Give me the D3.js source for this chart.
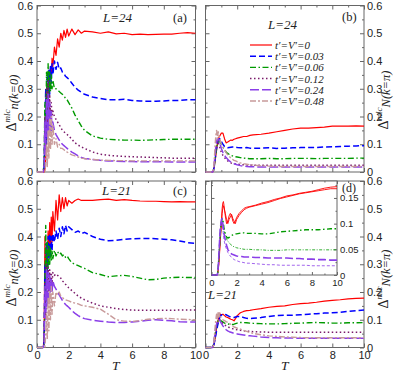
<!DOCTYPE html>
<html>
<head>
<meta charset="utf-8">
<script src="https://cdn.jsdelivr.net/npm/d3@7"></script>
<style>
    html, body { margin: 0; padding: 0; background: #fff; }
    svg { display: block; font-family: "Liberation Serif", "Times New Roman", serif; }
</style>
</head>
<body>
<div id="chart"></div>
<script>
// shared time grid (T)
const T = [0, 0.4, 0.45, 0.5, 0.55, 0.6, 0.65, 0.7, 0.75, 0.8,
    0.85, 0.9, 0.95, 1.0, 1.1, 1.2, 1.3, 1.4, 1.5, 1.6,
    1.7, 1.8, 1.9, 2.0, 2.2, 2.4, 2.6, 2.8, 3.0, 3.5,
    4.0, 4.5, 5.0, 5.5, 6.0, 6.5, 7.0, 7.5, 8.0, 8.5,
    9.0, 9.5, 10];

const legendLabels = ["t′=V′=0", "t′=V′=0.03", "t′=V′=0.06", "t′=V′=0.12", "t′=V′=0.24", "t′=V′=0.48"];
const xTicks = [0, 2, 4, 6, 8, 10];
const yTicks = [0, 0.1, 0.2, 0.3, 0.4, 0.5, 0.6];
const insetYTicks = [0, 0.05, 0.1, 0.15];

// (a) L=24, n(k=0)
const aRed = [0, 0, 0, 0.01, 0.05, 0.12, 0.2, 0.27, 0.33, 0.3,
    0.38, 0.34, 0.41, 0.38, 0.45, 0.42, 0.48, 0.45, 0.5, 0.475,
    0.51, 0.485, 0.515, 0.49, 0.515, 0.495, 0.512, 0.5, 0.508, 0.505,
    0.5, 0.505, 0.498, 0.5, 0.495, 0.497, 0.495, 0.496, 0.497, 0.497,
    0.5, 0.502, 0.5];
const aBlue = [0, 0, 0.02, 0.15, 0.3, 0.1, 0.35, 0.2, 0.37, 0.28,
    0.38, 0.32, 0.39, 0.35, 0.4, 0.37, 0.395, 0.37, 0.375, 0.36,
    0.355, 0.345, 0.34, 0.335, 0.32, 0.305, 0.295, 0.287, 0.28, 0.27,
    0.265, 0.26, 0.26, 0.262, 0.258, 0.256, 0.255, 0.255, 0.256, 0.258,
    0.258, 0.26, 0.26];
const aGreen = [0, 0, 0.05, 0.25, 0.1, 0.36, 0.22, 0.39, 0.28, 0.36,
    0.29, 0.35, 0.3, 0.33, 0.3, 0.3, 0.295, 0.29, 0.285, 0.28,
    0.275, 0.265, 0.26, 0.25, 0.23, 0.205, 0.185, 0.165, 0.15, 0.13,
    0.122, 0.118, 0.116, 0.115, 0.115, 0.114, 0.115, 0.116, 0.117, 0.118,
    0.118, 0.118, 0.118];
const aMaroon = [0, 0, 0.03, 0.2, 0.08, 0.3, 0.15, 0.33, 0.2, 0.28,
    0.21, 0.25, 0.2, 0.22, 0.2, 0.19, 0.18, 0.17, 0.16, 0.15,
    0.145, 0.14, 0.135, 0.13, 0.118, 0.105, 0.097, 0.09, 0.085, 0.072,
    0.064, 0.06, 0.058, 0.056, 0.055, 0.054, 0.053, 0.052, 0.051, 0.05,
    0.05, 0.05, 0.05];
const aViolet = [0, 0, 0.02, 0.18, 0.06, 0.26, 0.12, 0.28, 0.15, 0.25,
    0.14, 0.22, 0.15, 0.18, 0.15, 0.135, 0.125, 0.115, 0.108, 0.1,
    0.095, 0.09, 0.085, 0.08, 0.072, 0.065, 0.058, 0.052, 0.049, 0.045,
    0.042, 0.04, 0.039, 0.038, 0.038, 0.037, 0.037, 0.037, 0.037, 0.036,
    0.036, 0.036, 0.036];
const aRosy = [0, 0, 0, 0, 0.03, 0.1, 0.02, 0.15, 0.05, 0.19,
    0.08, 0.2, 0.1, 0.17, 0.1, 0.12, 0.09, 0.1, 0.085, 0.085,
    0.08, 0.075, 0.072, 0.068, 0.062, 0.058, 0.054, 0.05, 0.048, 0.045,
    0.043, 0.042, 0.041, 0.041, 0.04, 0.04, 0.04, 0.04, 0.04, 0.04,
    0.04, 0.04, 0.04];

// (b) L=24, N(k=pi)
const bRed = [0, 0, 0, 0.005, 0.02, 0.04, 0.06, 0.08, 0.1, 0.115,
    0.125, 0.13, 0.135, 0.14, 0.14, 0.12, 0.105, 0.108, 0.112, 0.115,
    0.114, 0.118, 0.12, 0.122, 0.125, 0.128, 0.128, 0.132, 0.134, 0.136,
    0.14, 0.145, 0.15, 0.155, 0.158, 0.158, 0.16, 0.162, 0.165, 0.165,
    0.165, 0.166, 0.165];
const bBlue = [0, 0, 0, 0.005, 0.02, 0.04, 0.065, 0.085, 0.1, 0.11,
    0.115, 0.12, 0.118, 0.11, 0.1, 0.092, 0.088, 0.087, 0.088, 0.089,
    0.09, 0.09, 0.09, 0.088, 0.087, 0.087, 0.088, 0.086, 0.085, 0.086,
    0.087, 0.085, 0.086, 0.087, 0.088, 0.088, 0.088, 0.09, 0.091, 0.092,
    0.093, 0.094, 0.095];
const bGreen = [0, 0, 0, 0.005, 0.02, 0.045, 0.07, 0.09, 0.1, 0.108,
    0.11, 0.11, 0.105, 0.1, 0.09, 0.08, 0.072, 0.067, 0.063, 0.06,
    0.058, 0.056, 0.055, 0.054, 0.052, 0.05, 0.049, 0.048, 0.048, 0.048,
    0.049, 0.048, 0.048, 0.049, 0.049, 0.049, 0.048, 0.049, 0.049, 0.049,
    0.049, 0.05, 0.05];
const bMaroon = [0, 0, 0, 0.005, 0.02, 0.05, 0.08, 0.1, 0.11, 0.105,
    0.1, 0.09, 0.08, 0.07, 0.06, 0.052, 0.045, 0.04, 0.036, 0.033,
    0.031, 0.03, 0.029, 0.028, 0.027, 0.026, 0.025, 0.025, 0.024, 0.024,
    0.024, 0.024, 0.024, 0.024, 0.024, 0.024, 0.024, 0.024, 0.024, 0.024,
    0.024, 0.024, 0.024];
const bViolet = [0, 0, 0, 0.01, 0.03, 0.06, 0.09, 0.11, 0.12, 0.12,
    0.115, 0.105, 0.095, 0.085, 0.07, 0.06, 0.052, 0.046, 0.04, 0.036,
    0.033, 0.03, 0.028, 0.026, 0.023, 0.021, 0.02, 0.019, 0.019, 0.018,
    0.018, 0.018, 0.018, 0.018, 0.018, 0.018, 0.018, 0.018, 0.018, 0.018,
    0.018, 0.018, 0.018];
const bRosy = [0, 0, 0, 0.01, 0.04, 0.09, 0.13, 0.15, 0.12, 0.145,
    0.13, 0.12, 0.11, 0.1, 0.09, 0.08, 0.07, 0.062, 0.056, 0.05,
    0.046, 0.042, 0.04, 0.037, 0.033, 0.03, 0.028, 0.026, 0.025, 0.022,
    0.021, 0.02, 0.02, 0.02, 0.02, 0.02, 0.02, 0.02, 0.02, 0.02,
    0.02, 0.02, 0.02];

// (c) L=21, n(k=0)
const cRed = [0, 0, 0.05, 0.4, 0.2, 0.35, 0.28, 0.42, 0.33, 0.45,
    0.36, 0.47, 0.38, 0.49, 0.42, 0.53, 0.46, 0.55, 0.49, 0.54,
    0.5, 0.54, 0.51, 0.53, 0.52, 0.53, 0.535, 0.53, 0.53, 0.53,
    0.533, 0.535, 0.53, 0.533, 0.53, 0.528, 0.527, 0.527, 0.526, 0.525,
    0.526, 0.525, 0.525];
const cBlue = [0, 0, 0.02, 0.3, 0.15, 0.38, 0.25, 0.4, 0.3, 0.41,
    0.33, 0.4, 0.35, 0.41, 0.38, 0.42, 0.39, 0.43, 0.4, 0.435,
    0.41, 0.44, 0.42, 0.435, 0.425, 0.415, 0.42, 0.41, 0.415, 0.4,
    0.39, 0.385, 0.386, 0.39, 0.392, 0.393, 0.393, 0.392, 0.39, 0.388,
    0.384, 0.378, 0.375];
const cGreen = [0, 0, 0.02, 0.2, 0.44, 0.25, 0.38, 0.28, 0.37, 0.3,
    0.36, 0.31, 0.35, 0.32, 0.35, 0.33, 0.345, 0.335, 0.34, 0.33,
    0.335, 0.325, 0.33, 0.32, 0.305, 0.3, 0.295, 0.29, 0.285, 0.27,
    0.263, 0.255, 0.258, 0.26, 0.256, 0.25, 0.244, 0.245, 0.25, 0.252,
    0.253, 0.252, 0.252];
const cMaroon = [0, 0, 0.02, 0.2, 0.1, 0.3, 0.18, 0.29, 0.2, 0.28,
    0.22, 0.27, 0.23, 0.27, 0.26, 0.265, 0.26, 0.255, 0.25, 0.24,
    0.235, 0.228, 0.222, 0.215, 0.205, 0.195, 0.185, 0.178, 0.172, 0.16,
    0.15, 0.145, 0.14, 0.137, 0.135, 0.134, 0.134, 0.134, 0.134, 0.134,
    0.135, 0.135, 0.135];
const cViolet = [0, 0, 0.02, 0.22, 0.1, 0.28, 0.15, 0.27, 0.18, 0.26,
    0.2, 0.25, 0.2, 0.24, 0.22, 0.21, 0.2, 0.19, 0.18, 0.17,
    0.162, 0.155, 0.15, 0.145, 0.133, 0.123, 0.115, 0.108, 0.104, 0.098,
    0.095, 0.092, 0.09, 0.09, 0.092, 0.095, 0.098, 0.1, 0.098, 0.096,
    0.093, 0.092, 0.092];
const cRosy = [0, 0, 0, 0, 0.05, 0.12, 0.03, 0.18, 0.06, 0.2,
    0.1, 0.22, 0.12, 0.2, 0.15, 0.2, 0.19, 0.2, 0.185, 0.18,
    0.175, 0.172, 0.17, 0.168, 0.163, 0.16, 0.157, 0.152, 0.15, 0.145,
    0.138, 0.12, 0.1, 0.095, 0.094, 0.097, 0.102, 0.104, 0.105, 0.104,
    0.102, 0.101, 0.1];

// (d) L=21, N(k=pi)
const dRed = [0, 0, 0, 0.005, 0.015, 0.03, 0.05, 0.07, 0.085, 0.1,
    0.11, 0.115, 0.12, 0.118, 0.12, 0.115, 0.11, 0.108, 0.105, 0.102,
    0.1, 0.096, 0.105, 0.115, 0.125, 0.13, 0.133, 0.134, 0.136, 0.14,
    0.145, 0.148, 0.15, 0.155, 0.158, 0.16, 0.163, 0.167, 0.17, 0.172,
    0.175, 0.177, 0.178];
const dBlue = [0, 0, 0, 0.005, 0.015, 0.03, 0.045, 0.06, 0.075, 0.088,
    0.1, 0.108, 0.113, 0.117, 0.12, 0.12, 0.118, 0.115, 0.112, 0.11,
    0.108, 0.108, 0.11, 0.112, 0.112, 0.108, 0.105, 0.104, 0.105, 0.108,
    0.112, 0.115, 0.116, 0.116, 0.118, 0.12, 0.122, 0.124, 0.125, 0.127,
    0.13, 0.133, 0.135];
const dGreen = [0, 0, 0, 0.01, 0.025, 0.045, 0.065, 0.08, 0.09, 0.097,
    0.1, 0.1, 0.098, 0.095, 0.092, 0.088, 0.086, 0.085, 0.084, 0.083,
    0.083, 0.084, 0.086, 0.088, 0.09, 0.09, 0.089, 0.088, 0.087, 0.086,
    0.085, 0.085, 0.086, 0.087, 0.088, 0.089, 0.09, 0.089, 0.088, 0.088,
    0.089, 0.089, 0.09];
const dMaroon = [0, 0, 0, 0.01, 0.025, 0.045, 0.065, 0.08, 0.09, 0.097,
    0.1, 0.1, 0.097, 0.093, 0.087, 0.082, 0.078, 0.075, 0.072, 0.07,
    0.068, 0.066, 0.065, 0.064, 0.062, 0.06, 0.059, 0.058, 0.057, 0.056,
    0.055, 0.055, 0.055, 0.055, 0.055, 0.055, 0.055, 0.055, 0.055, 0.055,
    0.055, 0.055, 0.055];
const dViolet = [0, 0, 0, 0.01, 0.03, 0.05, 0.07, 0.085, 0.095, 0.1,
    0.1, 0.097, 0.092, 0.087, 0.078, 0.07, 0.064, 0.06, 0.057, 0.055,
    0.053, 0.051, 0.05, 0.049, 0.047, 0.045, 0.043, 0.042, 0.041, 0.038,
    0.036, 0.035, 0.034, 0.034, 0.033, 0.033, 0.033, 0.033, 0.033, 0.033,
    0.033, 0.033, 0.033];
const dRosy = [0, 0, 0, 0.005, 0.03, 0.07, 0.1, 0.12, 0.1, 0.13,
    0.11, 0.125, 0.11, 0.105, 0.1, 0.097, 0.093, 0.09, 0.087, 0.083,
    0.078, 0.074, 0.072, 0.07, 0.066, 0.062, 0.058, 0.054, 0.051, 0.046,
    0.042, 0.04, 0.038, 0.037, 0.036, 0.035, 0.035, 0.035, 0.035, 0.035,
    0.035, 0.035, 0.035];

// inset of (d)
const iRed1 = [0, 0, 0, 0.005, 0.015, 0.03, 0.05, 0.07, 0.09, 0.11,
    0.13, 0.14, 0.143, 0.135, 0.115, 0.1, 0.105, 0.115, 0.12, 0.115,
    0.105, 0.1, 0.105, 0.112, 0.12, 0.125, 0.13, 0.132, 0.133, 0.136,
    0.14, 0.143, 0.147, 0.15, 0.154, 0.156, 0.159, 0.161, 0.163, 0.166,
    0.169, 0.171, 0.172];
const iRed2 = [0, 0, 0, 0.004, 0.012, 0.025, 0.045, 0.065, 0.085, 0.1,
    0.12, 0.13, 0.135, 0.13, 0.12, 0.108, 0.1, 0.108, 0.113, 0.118,
    0.11, 0.105, 0.1, 0.108, 0.116, 0.122, 0.127, 0.13, 0.132, 0.135,
    0.138, 0.141, 0.145, 0.149, 0.152, 0.155, 0.158, 0.16, 0.162, 0.164,
    0.166, 0.168, 0.168];
const iGreen1 = [0, 0, 0, 0.005, 0.02, 0.04, 0.06, 0.08, 0.095, 0.105,
    0.11, 0.108, 0.1, 0.09, 0.08, 0.074, 0.072, 0.073, 0.075, 0.077,
    0.078, 0.079, 0.08, 0.08, 0.081, 0.082, 0.082, 0.081, 0.081, 0.081,
    0.08, 0.08, 0.082, 0.084, 0.085, 0.086, 0.087, 0.088, 0.088, 0.088,
    0.089, 0.09, 0.09];
const iGreen2 = [0, 0, 0, 0.005, 0.02, 0.04, 0.06, 0.08, 0.095, 0.103,
    0.105, 0.1, 0.092, 0.085, 0.077, 0.07, 0.066, 0.063, 0.06, 0.058,
    0.056, 0.055, 0.054, 0.053, 0.052, 0.051, 0.05, 0.05, 0.05, 0.049,
    0.049, 0.048, 0.048, 0.048, 0.049, 0.049, 0.049, 0.049, 0.049, 0.049,
    0.049, 0.049, 0.049];
const iViolet1 = [0, 0, 0, 0.005, 0.02, 0.045, 0.07, 0.09, 0.1, 0.108,
    0.11, 0.1, 0.09, 0.08, 0.068, 0.058, 0.05, 0.046, 0.043, 0.041,
    0.04, 0.039, 0.038, 0.037, 0.036, 0.036, 0.035, 0.035, 0.035, 0.034,
    0.034, 0.033, 0.033, 0.033, 0.033, 0.032, 0.032, 0.031, 0.031, 0.03,
    0.03, 0.029, 0.029];
const iViolet2 = [0, 0, 0, 0.005, 0.02, 0.045, 0.07, 0.09, 0.1, 0.105,
    0.1, 0.09, 0.078, 0.068, 0.057, 0.05, 0.044, 0.04, 0.037, 0.034,
    0.032, 0.03, 0.029, 0.028, 0.026, 0.025, 0.024, 0.023, 0.023, 0.022,
    0.021, 0.02, 0.02, 0.019, 0.019, 0.019, 0.019, 0.019, 0.018, 0.018,
    0.018, 0.018, 0.018];

(() => {
    const styles = [
        { color: "#ff0000", dash: null, w: 1.2 },
        { color: "#0000ff", dash: "6,3", w: 1.5 },
        { color: "#009a00", dash: "6,2.5,1.5,2.5", w: 1.4 },
        { color: "#7a1a6a", dash: "1.5,2.5", w: 1.5 },
        { color: "#8a3ee8", dash: "9,3", w: 1.5 },
        { color: "#c89a9a", dash: "6,2,2,2", w: 1.4 }
    ];
    const frame = "#666", ink = "#222";
    const pw = 158.5, ph = 166.5;

    const svg = d3.select("#chart").append("svg").attr("width", 399).attr("height", 372);
    const fmt = d => d === 0 ? "0" : d3.format("~g")(d);

    const drawAxes = (x, y, o) => {
        const g = svg.append("g");
        const [xa, xb] = x.range(), [yb, ya] = y.range();
        const ax = (axis, tx, ty) => g.append("g").attr("transform", `translate(${tx},${ty})`).call(axis)
            .call(s => s.select(".domain").remove())
            .call(s => s.selectAll(".tick line").attr("stroke", frame))
            .call(s => s.selectAll(".tick text").attr("fill", ink).style("font-size", o.fs + "px").style("font-family", null));
        const none = () => "";
        ax(d3.axisBottom(x).tickValues(o.xMaj).tickSize(-o.maj).tickPadding(4).tickFormat(o.xLab ? fmt : none), 0, yb);
        ax(d3.axisBottom(x).tickValues(o.xMin).tickSize(-o.min).tickFormat(none), 0, yb);
        ax(d3.axisTop(x).tickValues(o.xMaj).tickSize(-o.maj).tickFormat(none), 0, ya);
        ax(d3.axisTop(x).tickValues(o.xMin).tickSize(-o.min).tickFormat(none), 0, ya);
        ax(d3.axisLeft(y).tickValues(o.yMaj).tickSize(-o.maj).tickPadding(4).tickFormat(o.side === "left" ? fmt : none), xa, 0);
        ax(d3.axisLeft(y).tickValues(o.yMin).tickSize(-o.min).tickFormat(none), xa, 0);
        ax(d3.axisRight(y).tickValues(o.yMaj).tickSize(-o.maj).tickPadding(3).tickFormat(o.side === "right" ? fmt : none), xb, 0);
        ax(d3.axisRight(y).tickValues(o.yMin).tickSize(-o.min).tickFormat(none), xb, 0);
        g.append("rect").attr("x", xa).attr("y", ya).attr("width", xb - xa).attr("height", yb - ya)
            .attr("fill", "none").attr("stroke", frame).attr("stroke-width", 1);
    };

    const drawLines = (x, y, series, st) => {
        const line = d3.line().x((d, i) => x(T[i])).y(d => y(d));
        svg.append("g").selectAll("path").data(series).join("path")
            .attr("d", d => line(d))
            .attr("fill", "none")
            .attr("stroke", (d, i) => st[i].color)
            .attr("stroke-width", (d, i) => st[i].w)
            .attr("stroke-dasharray", (d, i) => st[i].dash)
            .attr("stroke-linejoin", "round");
    };

    const yLabel = (tx, ty, sub) => {
        const t = svg.append("text").attr("transform", `translate(${tx},${ty}) rotate(-90)`)
            .attr("text-anchor", "middle").attr("fill", ink);
        t.append("tspan").style("font-size", "14px").text("Δ");
        t.append("tspan").style("font-size", "9px").style("font-style", "italic").attr("dy", -6).text("mlc");
        t.append("tspan").style("font-size", "12.5px").style("font-style", "italic").attr("dy", 8).text(sub);
    };

    const note = (tx, ty, txt, italic, size) => svg.append("text").attr("x", tx).attr("y", ty)
        .attr("fill", ink).style("font-size", size + "px").style("font-style", italic ? "italic" : "normal").text(txt);

    const panels = [
        { x0: 37, y0: 5.5, data: [aRed, aBlue, aGreen, aMaroon, aViolet, aRosy], side: "left", xLab: false },
        { x0: 205.5, y0: 5.5, data: [bRed, bBlue, bGreen, bMaroon, bViolet, bRosy], side: "right", xLab: false },
        { x0: 37, y0: 181, data: [cRed, cBlue, cGreen, cMaroon, cViolet, cRosy], side: "left", xLab: true },
        { x0: 205.5, y0: 181, data: [dRed, dBlue, dGreen, dMaroon, dViolet, dRosy], side: "right", xLab: true }
    ];

    panels.forEach(p => {
        const x = d3.scaleLinear().domain([0, 10]).range([p.x0, p.x0 + pw]);
        const y = d3.scaleLinear().domain([0, 0.6]).range([p.y0 + ph, p.y0]);
        drawAxes(x, y, {
            xMaj: xTicks, xMin: [1, 3, 5, 7, 9], yMaj: yTicks, yMin: [0.05, 0.15, 0.25, 0.35, 0.45, 0.55],
            maj: 4, min: 2, side: p.side, xLab: p.xLab, fs: 11
        });
        drawLines(x, y, p.data, styles);
    });

    // inset in (d)
    {
        const x = d3.scaleLinear().domain([0, 10]).range([211.5, 337]);
        const y = d3.scaleLinear().domain([0, 0.183]).range([275, 181]);
        svg.append("rect").attr("x", 211.5).attr("y", 181).attr("width", 125.5).attr("height", 94).attr("fill", "#fff");
        drawAxes(x, y, {
            xMaj: xTicks, xMin: [1, 3, 5, 7, 9], yMaj: insetYTicks, yMin: [0.025, 0.075, 0.125, 0.175],
            maj: 3, min: 1.5, side: "right", xLab: true, fs: 9.5
        });
        const ist = [
            { color: "#ff0000", dash: null, w: 0.9 },
            { color: "#ff0000", dash: null, w: 0.9 },
            { color: "#009a00", dash: "5,2.5,1.5,2.5", w: 1.4 },
            { color: "#009a00", dash: "3,1.5,1,1.5", w: 0.8 },
            { color: "#8a3ee8", dash: "8,3", w: 1.6 },
            { color: "#8a3ee8", dash: "3,2", w: 0.8 }
        ];
        drawLines(x, y, [iRed1, iRed2, iGreen1, iGreen2, iViolet1, iViolet2], ist);
    }

    // legend in (b)
    legendLabels.forEach((lab, i) => {
        const ly = 45 + i * 11.2;
        svg.append("line").attr("x1", 250).attr("x2", 272).attr("y1", ly).attr("y2", ly)
            .attr("stroke", styles[i].color).attr("stroke-width", styles[i].w).attr("stroke-dasharray", styles[i].dash);
        note(275, ly + 4, lab, true, 11);
    });

    note(103, 22, "L=24", true, 13);
    note(173, 22, "(a)", false, 12.5);
    note(268, 29, "L=24", true, 13);
    note(342, 21, "(b)", false, 12.5);
    note(102, 195, "L=21", true, 13);
    note(173, 195, "(c)", false, 12.5);
    note(342, 192, "(d)", false, 12);
    note(208, 299, "L=21", true, 13);

    yLabel(16, 103, "n(k=0)");
    yLabel(16, 278, "n(k=0)");
    yLabel(388, 100, "N(k=π)");
    yLabel(388, 279, "N(k=π)");

    note(112, 370, "T", true, 13.5);
    note(281, 370, "T", true, 13.5);
})();
</script>
</body>
</html>
